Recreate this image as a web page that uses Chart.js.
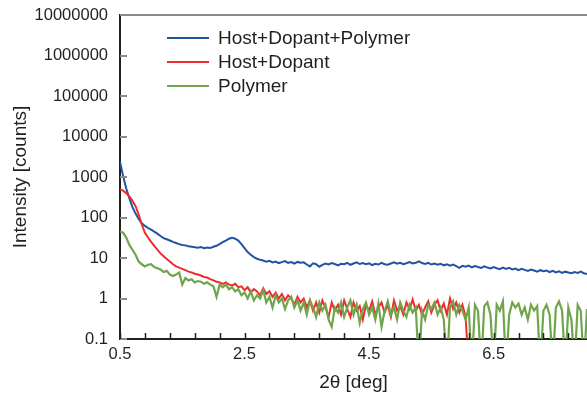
<!DOCTYPE html>
<html>
<head>
<meta charset="utf-8">
<script src="https://cdn.jsdelivr.net/npm/chart.js@4.4.1/dist/chart.umd.min.js"></script>
<style>
  html, body { margin: 0; padding: 0; background: #fff; }
  #chart { display: block; }
</style>
</head>
<body>
<canvas id="chart" width="587" height="396"></canvas>
<script>
// 2theta positions (deg)
const twoTheta = [
  0.50, 0.55, 0.60, 0.65, 0.70, 0.75, 0.80, 0.85, 0.90, 0.95,
  1.00, 1.05, 1.10, 1.15, 1.20, 1.25, 1.30, 1.35, 1.40, 1.45,
  1.50, 1.55, 1.60, 1.65, 1.70, 1.75, 1.80, 1.85, 1.90, 1.95,
  2.00, 2.05, 2.10, 2.15, 2.20, 2.25, 2.30, 2.35, 2.40, 2.45,
  2.50, 2.55, 2.60, 2.65, 2.70, 2.75, 2.80, 2.85, 2.90, 2.95,
  3.00, 3.05, 3.10, 3.15, 3.20, 3.25, 3.30, 3.35, 3.40, 3.45,
  3.50, 3.55, 3.60, 3.65, 3.70, 3.75, 3.80, 3.85, 3.90, 3.95,
  4.00, 4.05, 4.10, 4.15, 4.20, 4.25, 4.30, 4.35, 4.40, 4.45,
  4.50, 4.55, 4.60, 4.65, 4.70, 4.75, 4.80, 4.85, 4.90, 4.95,
  5.00, 5.05, 5.10, 5.15, 5.20, 5.25, 5.30, 5.35, 5.40, 5.45,
  5.50, 5.55, 5.60, 5.65, 5.70, 5.75, 5.80, 5.85, 5.90, 5.95,
  6.00, 6.05, 6.10, 6.15, 6.20, 6.25, 6.30, 6.35, 6.40, 6.45,
  6.50, 6.55, 6.60, 6.65, 6.70, 6.75, 6.80, 6.85, 6.90, 6.95,
  7.00, 7.05, 7.10, 7.15, 7.20, 7.25, 7.30, 7.35, 7.40, 7.45,
  7.50, 7.55, 7.60, 7.65, 7.70, 7.75, 7.80, 7.85, 7.90, 7.95,
  8.00
];

// Host+Dopant+Polymer
const hostDopantPolymer = [
  2400, 1050, 520, 300, 180, 125, 92, 72, 62, 55,
  50, 45, 40, 35, 31, 29, 27, 25, 23.5, 22,
  21, 20.5, 19.5, 19, 18.5, 18, 18.6, 17.4, 18.2, 17.6,
  19, 20, 22, 24.5, 27, 30, 31.5, 30, 27, 22,
  17.5, 14, 12, 10.5, 9.6, 9, 8.7, 8.1, 8.5, 7.8,
  8.2, 7.5, 7.9, 8.4, 7.6, 7.9, 7.3, 8.0, 7.6, 7.8,
  6.9, 6.2, 7.4, 7.0, 6.1, 6.8, 7.3, 6.9, 7.5, 7.1,
  6.6, 7.2, 7.0, 7.6, 6.8, 7.3, 7.8, 7.1, 7.5, 7.0,
  7.4, 6.7, 7.2, 6.9, 7.6, 7.0, 6.8, 7.3, 7.8, 7.2,
  7.6, 7.0, 7.4, 7.9, 7.3, 7.6, 8.3, 7.5, 7.1, 7.6,
  6.9, 7.3, 6.8, 7.2, 6.6, 7.0, 6.5, 6.9, 6.3, 5.7,
  6.4, 6.1, 6.5, 5.9, 6.3, 6.0, 5.7, 6.2, 5.8, 5.5,
  6.0, 5.6, 5.3, 5.8, 5.4, 5.7, 5.2, 5.5, 5.0, 5.4,
  5.1, 4.8, 5.2, 4.9, 4.6, 5.0, 4.7, 4.9, 4.5, 4.8,
  4.4, 4.7, 4.3, 4.6, 4.4, 4.2, 4.5, 4.3, 4.6, 4.2,
  4.0
];

// Host+Dopant (ends at 6.1 deg, last point drops off the axis)
const hostDopant = [
  490, 460, 400, 330, 260, 190, 118, 67, 42, 32,
  25, 20, 16, 13, 11, 9.5, 8.2, 7, 6.2, 5.8,
  5.4, 5, 4.6, 4.4, 4.1, 3.9, 3.7, 3.4, 3.3, 3.0,
  2.8, 2.6, 2.5, 2.3, 2.5, 2.2, 2.1, 2.3, 1.9, 2.0,
  1.6, 1.9, 1.4, 1.7, 1.5, 1.2, 1.8, 1.3, 1.5, 1.1,
  1.4, 1.0, 1.3, 0.9, 1.2, 1.0, 0.7, 1.1, 0.8, 1.0,
  0.6, 0.9, 0.5, 0.8, 0.45, 0.9, 0.6, 0.35, 0.8, 0.5,
  0.7, 0.4, 0.9, 0.55, 0.35, 0.8, 0.5, 0.65, 0.3, 0.7,
  0.5, 0.85, 0.4, 0.6, 0.8, 0.45, 0.7, 0.35, 0.9, 0.5,
  0.65, 0.4, 0.8, 0.55, 0.95, 0.5, 0.7, 0.4, 0.6, 0.85,
  0.45, 0.7, 0.9, 0.5, 0.75, 0.4, 1.0, 0.55, 0.8, 0.45,
  0.7, 0.35, 0.02
];

// Polymer (0.02 = zero count, drawn off the bottom of the axis)
const polymer = [
  45, 42, 32, 21, 16, 12, 8.2, 7, 6.2, 6.8,
  7, 6, 5.6, 5.2, 4.5, 4.8, 3.9, 3.6, 3.9, 4.4,
  2.2, 3.2, 2.8, 3.0, 2.5, 2.7, 2.6, 2.3, 2.5, 2.2,
  2.0, 1.1, 2.2, 1.9, 2.2, 1.7, 1.9, 1.5, 1.7, 1.2,
  1.4, 1.0, 1.5, 0.9, 1.2, 1.0, 1.6, 0.8, 1.1, 0.6,
  1.2, 0.8, 1.0, 0.55, 0.9, 1.1, 0.6, 0.9, 0.5, 0.8,
  0.4, 0.9, 0.6, 0.35, 0.8, 0.5, 0.7, 0.3, 0.2, 0.6,
  0.45, 0.8, 0.35, 0.6, 0.9, 0.4, 0.7, 0.25, 0.55, 0.8,
  0.4, 0.6, 0.3, 0.75, 0.2, 0.5, 0.85, 0.4, 0.6, 0.3,
  0.8, 0.5, 0.35, 0.7, 0.45, 0.6, 0.02, 0.5, 0.3, 0.7,
  0.55, 0.8, 0.4, 0.6, 0.3, 0.02, 0.6, 0.85, 0.4, 0.7,
  0.5, 0.3, 0.6, 0.02, 0.7, 0.5, 0.02, 0.65, 0.8, 0.4,
  0.02, 0.7, 0.5, 0.85, 0.02, 0.4, 0.8, 0.6, 0.75, 0.4,
  0.6, 0.3, 0.7, 0.5, 0.65, 0.02, 0.5, 0.7, 0.4, 0.02,
  0.6, 0.85, 0.5, 0.02, 0.6, 0.3, 0.02, 0.7, 0.5, 0.02,
  0.55
];

const xLabels = [0.5, 2.5, 4.5, 6.5];
const xMinorStep = 0.4;
const yTicks = [0.1, 1, 10, 100, 1000, 10000, 100000, 1000000, 10000000];

const seriesNames = ['Host+Dopant+Polymer', 'Host+Dopant', 'Polymer'];
const seriesColors = ['#2253a3', '#ee2c2c', '#6fa64b'];

const fontFamily = "'Liberation Sans', Arial, sans-serif";
const textColor = '#231f20';

function toPoints(values) {
  return values.map(function(v, i) { return { x: twoTheta[i], y: v }; });
}

// axis ticks pointing inward, top frame and legend
const decor = {
  id: 'decor',
  afterDraw: function(chart) {
    const ctx = chart.ctx;
    const area = chart.chartArea;
    const xs = chart.scales.x;
    const ys = chart.scales.y;
    ctx.save();
    ctx.strokeStyle = '#8a8a8a';
    ctx.lineWidth = 2;
    ctx.beginPath();
    ctx.moveTo(area.left, area.top);
    ctx.lineTo(area.right, area.top);
    ctx.stroke();

    ys.ticks.forEach(function(t) {
      const py = Math.round(ys.getPixelForValue(t.value));
      ctx.beginPath();
      ctx.moveTo(area.left, py);
      ctx.lineTo(area.left + 7, py);
      ctx.stroke();
    });

    ctx.strokeStyle = '#231f20';
    ctx.lineWidth = 1.5;
    xs.ticks.forEach(function(t) {
      const px = Math.round(xs.getPixelForValue(t.value)) + 0.5;
      ctx.beginPath();
      ctx.moveTo(px, area.bottom);
      ctx.lineTo(px, area.bottom - 6);
      ctx.stroke();
    });

    // legend
    ctx.font = '19px ' + fontFamily;
    ctx.textBaseline = 'middle';
    ctx.fillStyle = textColor;
    seriesNames.forEach(function(name, i) {
      const ly = 38 + i * 24;
      ctx.strokeStyle = seriesColors[i];
      ctx.lineWidth = 2;
      ctx.beginPath();
      ctx.moveTo(167, ly);
      ctx.lineTo(209, ly);
      ctx.stroke();
      ctx.fillText(name, 218, ly + 1);
    });
    ctx.restore();
  }
};

const ctx = document.getElementById('chart').getContext('2d');
const chart = new Chart(ctx, {
  type: 'line',
  data: {
    datasets: [
      {
        label: seriesNames[0],
        data: toPoints(hostDopantPolymer),
        borderColor: seriesColors[0],
        borderWidth: 2,
        order: 2
      },
      {
        label: seriesNames[1],
        data: toPoints(hostDopant),
        borderColor: seriesColors[1],
        borderWidth: 2,
        order: 1
      },
      {
        label: seriesNames[2],
        data: toPoints(polymer),
        borderColor: seriesColors[2],
        borderWidth: 2.2,
        order: 0
      }
    ]
  },
  options: {
    responsive: false,
    animation: false,
    layout: { autoPadding: false, padding: { top: 15, right: 0, left: 0, bottom: 0 } },
    elements: {
      point: { radius: 0 },
      line: { tension: 0, fill: false }
    },
    plugins: {
      legend: { display: false },
      tooltip: { enabled: false }
    },
    scales: {
      x: {
        type: 'linear',
        min: 0.5,
        max: 8.0,
        grid: { display: false, drawTicks: false },
        border: { display: true, color: '#231f20', width: 2 },
        afterBuildTicks: function(scale) {
          const ticks = [];
          for (let v = 0.5; v < 8.0; v += xMinorStep) {
            ticks.push({ value: Math.round(v * 10) / 10 });
          }
          scale.ticks = ticks;
        },
        afterFit: function(scale) {
          scale.height = 57;
          scale.paddingLeft = 0;
          scale.paddingRight = 0;
        },
        ticks: {
          autoSkip: false,
          maxRotation: 0,
          padding: 6,
          color: textColor,
          font: { family: fontFamily, size: 16.5 },
          callback: function(v) {
            return xLabels.indexOf(v) >= 0 ? v.toFixed(1) : '';
          }
        },
        title: {
          display: true,
          text: '2θ [deg]',
          color: textColor,
          font: { family: fontFamily, size: 19 },
          padding: { top: 0, bottom: 2 }
        }
      },
      y: {
        type: 'logarithmic',
        min: 0.1,
        max: 10000000,
        grid: { display: false, drawTicks: false },
        border: { display: true, color: '#231f20', width: 2 },
        afterBuildTicks: function(scale) {
          scale.ticks = yTicks.map(function(v) { return { value: v }; });
        },
        afterFit: function(scale) {
          scale.width = 120;
          scale.paddingTop = 0;
          scale.paddingBottom = 0;
        },
        ticks: {
          autoSkip: false,
          padding: 12,
          color: textColor,
          font: { family: fontFamily, size: 16.5 },
          callback: function(v) { return v < 1 ? '0.1' : String(v); }
        },
        title: {
          display: true,
          text: 'Intensity [counts]',
          color: textColor,
          font: { family: fontFamily, size: 19 },
          padding: { top: 9, bottom: 0 }
        }
      }
    }
  },
  plugins: [decor]
});
</script>
</body>
</html>
